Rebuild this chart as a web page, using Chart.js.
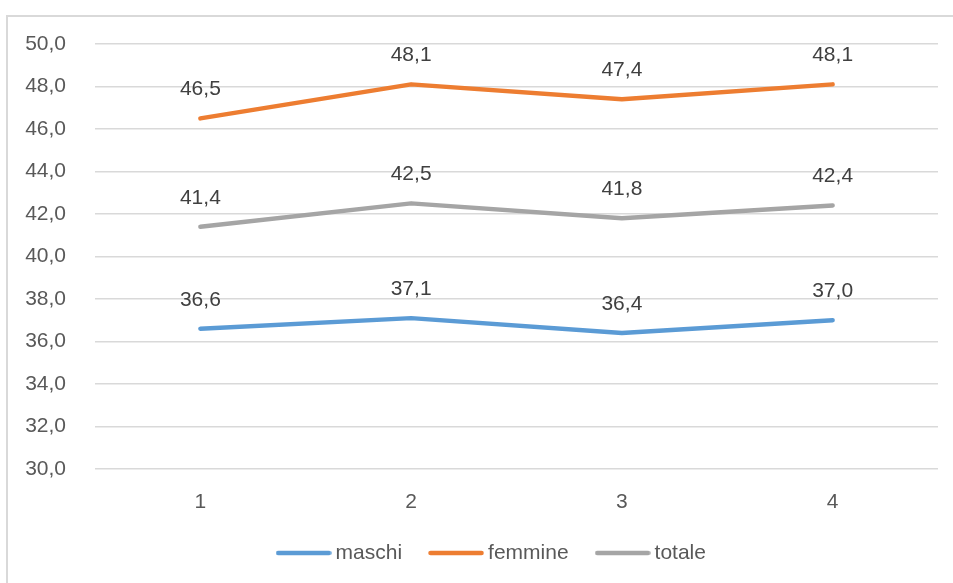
<!DOCTYPE html>
<html>
<head>
<meta charset="utf-8">
<script src="https://cdn.jsdelivr.net/npm/chart.js@4/dist/chart.umd.min.js"></script>
<style>
  html, body { margin: 0; padding: 0; background: #ffffff; overflow: hidden; width: 953px; height: 583px; }
  #frame { position: absolute; left: 6px; top: 15px; width: 1000px; height: 700px; border: 2px solid #d9d9d9; box-sizing: border-box; }
  #c { position: absolute; left: 0; top: 0; }
</style>
</head>
<body>
<div id="frame"></div>
<canvas id="c" width="988" height="583" style="width:988px;height:583px"></canvas>
<script>
const categories = ['1', '2', '3', '4'];
const seriesNames = ['maschi', 'femmine', 'totale'];
const maschi = [36.6, 37.1, 36.4, 37.0];
const femmine = [46.5, 48.1, 47.4, 48.1];
const totale = [41.4, 42.5, 41.8, 42.4];
const colors = ['#5B9BD5', '#ED7D31', '#A5A5A5'];
const yMin = 30, yMax = 50, yStep = 2;

const FONT = 'Liberation Sans, Arial, sans-serif';
const fmt = v => Number(v).toFixed(1).replace('.', ',');

function lineSwatch(color) {
  const c = document.createElement('canvas');
  c.width = 56; c.height = 6;
  const x = c.getContext('2d');
  x.strokeStyle = color;
  x.lineWidth = 4.5;
  x.lineCap = 'round';
  x.beginPath();
  x.moveTo(2.5, 3);
  x.lineTo(53.5, 3);
  x.stroke();
  return c;
}

const dataLabels = {
  id: 'dataLabels',
  afterDatasetsDraw(chart) {
    const ctx = chart.ctx;
    ctx.save();
    ctx.font = '21px ' + FONT;
    ctx.fillStyle = '#404040';
    ctx.textAlign = 'center';
    ctx.textBaseline = 'middle';
    chart.data.datasets.forEach((ds, i) => {
      const meta = chart.getDatasetMeta(i);
      meta.data.forEach((pt, j) => {
        ctx.fillText(fmt(ds.data[j]), pt.x, pt.y - 29);
      });
    });
    ctx.restore();
  }
};

const seriesData = [maschi, femmine, totale];
new Chart(document.getElementById('c'), {
  type: 'line',
  data: {
    labels: categories,
    datasets: seriesNames.map((n, i) => ({
      label: n,
      data: seriesData[i],
      borderColor: colors[i],
      backgroundColor: colors[i],
      borderWidth: 4.5,
      borderCapStyle: 'round',
      borderJoinStyle: 'round',
      pointRadius: 0,
      pointHoverRadius: 0,
      tension: 0,
      fill: false
    }))
  },
  options: {
    responsive: false,
    animation: false,
    devicePixelRatio: 1,
    layout: { padding: { left: 0, top: 44, right: 0, bottom: 9.5 } },
    plugins: {
      tooltip: { enabled: false },
      legend: {
        display: true,
        position: 'bottom',
        labels: {
          usePointStyle: true,
          pointStyleWidth: 43,
          padding: 32.5,
          color: '#595959',
          font: { family: FONT, size: 21 },
          generateLabels(chart) {
            return chart.data.datasets.map((ds, i) => ({
              text: ds.label,
              fillStyle: ds.borderColor,
              strokeStyle: ds.borderColor,
              fontColor: '#595959',
              lineWidth: 0,
              pointStyle: lineSwatch(ds.borderColor),
              hidden: false,
              datasetIndex: i
            }));
          }
        }
      }
    },
    scales: {
      x: {
        offset: true,
        grid: { display: false, drawTicks: false },
        border: { display: false },
        ticks: { color: '#595959', font: { family: FONT, size: 21 }, padding: 21, maxRotation: 0 },
        afterFit(scale) { scale.height = 41; }
      },
      y: {
        min: yMin,
        max: yMax,
        grid: { color: '#d9d9d9', lineWidth: 1.5, drawTicks: false },
        border: { display: false },
        ticks: {
          stepSize: yStep,
          color: '#595959',
          font: { family: FONT, size: 21 },
          padding: 29,
          callback: v => fmt(v)
        },
        afterFit(scale) { scale.width = 95; }
      },
      yRightSpace: {
        type: 'linear',
        position: 'right',
        display: true,
        grid: { display: false, drawTicks: false },
        border: { display: false },
        ticks: { display: false },
        afterFit(scale) { scale.width = 50; }
      }
    }
  },
  plugins: [dataLabels]
});
</script>
</body>
</html>
